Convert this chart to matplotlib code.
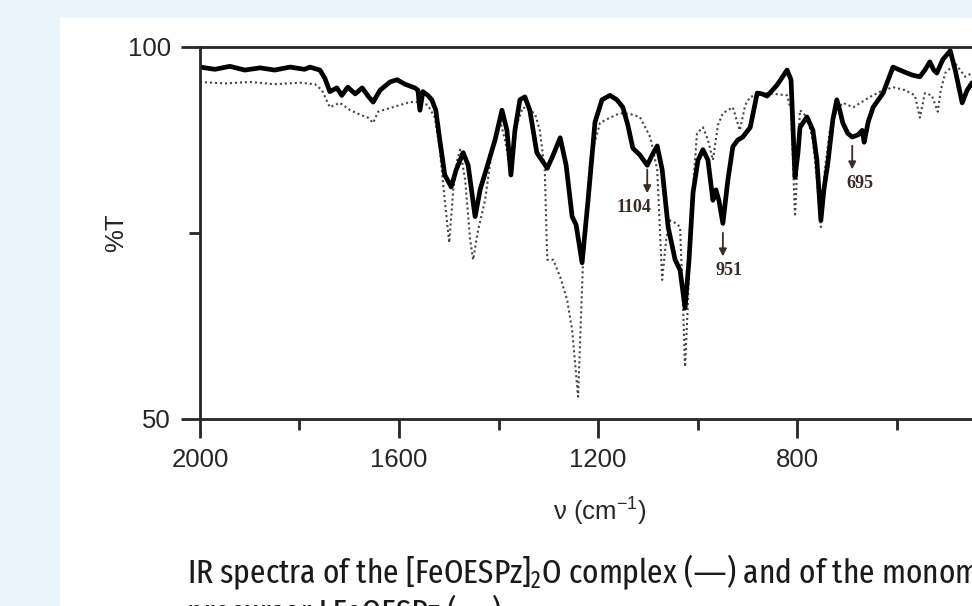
import numpy as np
import matplotlib
matplotlib.use("Agg")
import matplotlib.pyplot as plt
import matplotlib.patches as patches
from matplotlib import font_manager

# ------------------------------
# Spectra (wavenumber in cm-1, %T)
# ------------------------------
dimer_wn = [2000, 1970, 1940, 1910, 1879, 1850, 1819, 1790, 1779, 1759, 1749, 1739, 1725, 1715,
            1703, 1688, 1674, 1662, 1652, 1638, 1618, 1604, 1588, 1568, 1562, 1558, 1552, 1542,
            1534, 1526, 1518, 1508, 1495, 1485, 1471, 1461, 1447, 1437, 1423, 1407, 1393, 1383,
            1375, 1367, 1357, 1347, 1337, 1323, 1302, 1290, 1276, 1264, 1252, 1244, 1232, 1220,
            1206, 1192, 1176, 1162, 1150, 1140, 1130, 1116, 1101, 1091, 1081, 1071, 1059, 1045,
            1035, 1025, 1017, 1009, 999, 989, 979, 969, 963, 957, 949, 939, 929, 919, 909, 894,
            880, 870, 860, 840, 820, 812, 804, 798, 794, 780, 768, 760, 752, 746, 738, 728, 720,
            714, 708, 698, 689, 677, 669, 665, 657, 647, 627, 607, 593, 579, 567, 553, 543, 533,
            525, 519, 507, 492, 482, 468, 458, 448, 432, 412, 396]
dimer_T = [97.3, 97.0, 97.4, 96.9, 97.2, 96.9, 97.3, 97.0, 97.3, 96.9, 95.8, 94.0, 94.5, 93.5,
           94.6, 93.7, 94.5, 93.4, 92.6, 94.2, 95.3, 95.6, 95.0, 94.5, 94.2, 91.5, 94.0, 93.5,
           92.9, 91.5, 87.5, 82.8, 81.2, 83.5, 85.8, 84.1, 77.2, 80.8, 83.9, 87.5, 91.5, 88.8,
           82.8, 88.8, 92.9, 93.3, 91.5, 85.8, 83.7, 85.5, 87.8, 84.1, 77.2, 76.1, 71.0, 79.4,
           89.9, 92.9, 93.5, 92.9, 91.9, 89.5, 86.4, 85.5, 84.1, 85.5, 86.7, 83.5, 75.8, 71.4,
           70.0, 64.9, 71.4, 80.4, 84.8, 86.2, 84.8, 79.4, 80.8, 79.4, 76.3, 82.1, 86.6, 87.5,
           87.9, 89.2, 93.8, 93.7, 93.4, 94.9, 96.9, 95.6, 82.5, 85.8, 89.2, 90.6, 88.8, 84.8,
           76.7, 80.8, 84.4, 90.2, 92.9, 91.5, 89.8, 88.4, 87.9, 88.2, 88.8, 87.2, 89.9, 91.9,
           93.8, 97.3, 96.9, 96.5, 96.2, 96.0, 96.9, 98.0, 96.9, 96.5, 98.3, 99.5, 96.9, 92.5,
           94.2, 95.2, 94.9, 94.5, 94.2]

monomer_wn = [2000, 1950, 1900, 1850, 1799, 1769, 1755, 1739, 1719, 1698, 1678, 1662, 1652, 1642,
              1618, 1598, 1578, 1558, 1542, 1528, 1518, 1508, 1499, 1491, 1483, 1477, 1467, 1457,
              1451, 1441, 1427, 1413, 1397, 1387, 1375, 1367, 1351, 1327, 1317, 1307, 1302, 1290,
              1276, 1262, 1252, 1240, 1230, 1216, 1196, 1176, 1156, 1136, 1116, 1095, 1081, 1071,
              1063, 1055, 1043, 1035, 1029, 1025, 1019, 1015, 1001, 989, 979, 969, 959, 949, 929,
              915, 904, 894, 860, 820, 812, 804, 798, 794, 780, 768, 760, 752, 744, 734, 720, 708,
              687, 653, 633, 607, 583, 563, 553, 543, 529, 517, 511, 502, 482, 462, 448, 422, 396]
monomer_T = [95.3, 95.1, 95.3, 95.0, 95.2, 95.0, 94.2, 91.9, 92.5, 91.5, 90.9, 90.5, 89.8, 91.3,
             91.8, 92.2, 92.6, 92.6, 92.2, 90.5, 86.2, 79.4, 73.7, 80.8, 84.8, 86.2, 82.1, 74.1,
             71.4, 75.4, 79.4, 86.2, 90.2, 87.5, 83.2, 88.8, 91.9, 91.1, 88.8, 83.5, 71.4, 71.4,
             69.1, 66.0, 62.0, 53.0, 71.4, 84.8, 89.8, 90.5, 91.1, 91.0, 90.6, 87.9, 83.5, 68.7,
             74.1, 76.7, 76.3, 75.8, 65.1, 57.0, 66.0, 75.8, 88.4, 89.2, 87.5, 84.8, 89.5, 91.1,
             91.9, 88.8, 92.2, 93.3, 93.8, 93.5, 91.5, 77.2, 86.2, 91.5, 90.6, 87.5, 82.1, 75.8,
             83.5, 88.8, 91.5, 92.5, 91.9, 93.3, 94.0, 94.6, 94.2, 93.5, 90.5, 93.8, 93.5, 91.3,
             94.2, 96.5, 97.8, 96.0, 96.5, 96.2, 95.8]

peak_labels = ["1104", "951", "695"]
peak_wn = [1101, 949, 689]
peak_T = [83.9, 75.4, 87.1]

x_major = [2000, 1600, 1200, 800, 400]
x_minor = [1800, 1400, 1000, 600]
y_major = [50, 100]
y_minor = [75]


# ------------------------------
# Caption font: the narrowest regular sans that is installed
# ------------------------------
def pick_caption_font():
    fonts = [f for f in font_manager.fontManager.ttflist
             if f.style == "normal" and f.weight in (400, "normal", "regular")
             and "serif" not in f.name.lower() and "mono" not in f.name.lower()]
    for key in ["extracondensed", "extra condensed", "semicondensed", "condensed", "narrow"]:
        for f in fonts:
            tag = (f.name + " " + f.fname.split("/")[-1]).lower().replace("-", "")
            if key in tag.replace(" ", "") or key in tag:
                return font_manager.FontProperties(fname=f.fname)
    for f in fonts:
        if "condensed" in str(f.stretch).lower():
            return font_manager.FontProperties(fname=f.fname)
    return font_manager.FontProperties(family="Liberation Sans")


CAPTION_FONT = pick_caption_font()
AXIS_FONT = ["Liberation Sans", "DejaVu Sans"]
INK = "#262626"
plt.rcParams["mathtext.default"] = "regular"

fig = plt.figure(figsize=(9.72, 6.06), dpi=100)
fig.patch.set_facecolor("#e8f3fa")
panel = patches.Rectangle((60 / 972, 0), 1, (606 - 18) / 606, transform=fig.transFigure,
                          facecolor="white", edgecolor="none", zorder=-5)
fig.patches.append(panel)

ax = fig.add_axes([200 / 972, 187 / 606, 796 / 972, 372 / 606], zorder=2)
ax.set_facecolor("white")

ax.plot(monomer_wn, monomer_T, color="#444444", lw=1.5, ls=(0, (1, 1.4)))
ax.plot(dimer_wn, dimer_T, color="black", lw=3.4, solid_joinstyle="round")

ax.set_xlim(2000, 400)
ax.set_ylim(50, 100)
ax.set_xticks(x_major)
ax.set_xticks(x_minor, minor=True)
ax.set_yticks(y_major)
ax.set_yticks(y_minor, minor=True)

for side in ["left", "bottom", "top"]:
    ax.spines[side].set_linewidth(2)
    ax.spines[side].set_color(INK)
ax.spines["right"].set_visible(False)

ax.tick_params(which="major", length=14, width=2, color=INK, labelsize=18.5,
               labelcolor=INK, pad=7)
ax.tick_params(which="minor", length=8, width=2, color=INK)
for lab in ax.get_xticklabels() + ax.get_yticklabels():
    lab.set_family(AXIS_FONT)

ax.set_ylabel("%T", fontsize=18.5, color=INK, family=AXIS_FONT)
ax.set_xlabel("ν (cm$^{-1}$)", fontsize=18.5, color=INK, family=AXIS_FONT)
ax.xaxis.set_label_coords((600 - 200) / 796, -(496 - 419) / 372)
ax.yaxis.set_label_coords(-(200 - 128) / 796, (419 - 233) / 372)

# peak markers
label_dx = {"1104": (3, "right"), "951": (-5, "left"), "695": (-4, "left")}
for lab, wn, t in zip(peak_labels, peak_wn, peak_T):
    ax.annotate("", xy=(wn, t), xytext=(0, -21), textcoords="offset points",
                arrowprops=dict(arrowstyle="<|-", color="#3b2b22", lw=1.3, mutation_scale=11))
    dx, ha = label_dx[lab]
    ax.annotate(lab, xy=(wn, t), xytext=(dx, -29), textcoords="offset points",
                ha=ha, va="center", fontsize=13, fontweight="bold", color="#3b2b22",
                family=["Liberation Serif", "DejaVu Serif"])

# caption: size chosen so that "... and of the" ends near x = 875 px
renderer = fig.canvas.get_renderer()
probe = fig.text(0, 0, "IR spectra of the [FeOESPz]$_2$O complex (\u2014) and of the",
                 fontproperties=CAPTION_FONT, fontsize=30)
w = probe.get_window_extent(renderer).width
probe.remove()
cap_size = 30 * (875 - 187) / w

fig.text(187 / 972, (606 - 583) / 606,
         "IR spectra of the [FeOESPz]$_2$O complex (\u2014) and of the monomer",
         fontproperties=CAPTION_FONT, fontsize=cap_size, color="#1a1a1a",
         va="baseline", ha="left")
fig.text(187 / 972, (606 - 622) / 606, "precursor LFeOESPz (.....)",
         fontproperties=CAPTION_FONT, fontsize=cap_size, color="#1a1a1a",
         va="baseline", ha="left")

fig.savefig("out.png", dpi=100, facecolor=fig.get_facecolor())
